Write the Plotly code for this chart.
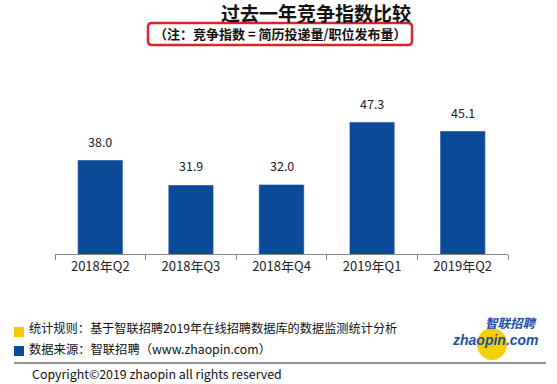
import plotly.graph_objects as go

categories = ["2018年Q2", "2018年Q3", "2018年Q4", "2019年Q1", "2019年Q2"]
values = [38.0, 31.9, 32.0, 47.3, 45.1]
value_labels = ["38.0", "31.9", "32.0", "47.3", "45.1"]

title = "过去一年竞争指数比较"
subtitle = "（注：竞争指数 = 简历投递量/职位发布量）"
note1 = "统计规则：基于智联招聘2019年在线招聘数据库的数据监测统计分析"
note2 = "数据来源：智联招聘（www.zhaopin.com）"
copyright_text = "Copyright©2019 zhaopin all rights reserved"

FONT = "Noto Sans CJK SC"
BAR = "#0B4A97"

W, H = 557, 384
# plot area in window pixels
PL, PR, PT, PB = 55, 508, 111, 254
ML, MR, MT, MB = PL, W - PR, PT, H - PB

fig = go.Figure()
fig.add_trace(go.Bar(x=categories, y=values, marker_color=BAR, width=0.5,
                     hoverinfo="skip"))

for c, v, t in zip(categories, values, value_labels):
    fig.add_annotation(x=c, y=v, text=t, showarrow=False, yshift=19,
                       font=dict(family=FONT, size=12.5, color="#222"))

fig.update_layout(
    width=W, height=H,
    margin=dict(l=ML, r=MR, t=MT, b=MB),
    paper_bgcolor="white", plot_bgcolor="white",
    showlegend=False,
    font=dict(family=FONT, color="#222"),
)
fig.update_xaxes(showline=True, linecolor="#888", linewidth=1,
                 ticks="outside", tickson="boundaries", ticklen=5, tickcolor="#888",
                 tickfont=dict(family=FONT, size=13, color="#222"), showgrid=False)
fig.update_yaxes(range=[15, 50], visible=False, showgrid=False)


def to_paper(x, y):
    return (x - PL) / (PR - PL), (PB - y) / (PB - PT)


paper_ann = [
    dict(text="<b>" + title + "</b>", x=316, y=13, size=19, anchor="center"),
    dict(text="<b>" + subtitle + "</b>", x=280, y=34, size=13, anchor="center"),
    dict(text=note1, x=27, y=328, size=12.2, anchor="left"),
    dict(text=note2, x=27, y=349, size=12.3, anchor="left"),
    dict(text=copyright_text, x=30, y=374, size=12.4, anchor="left"),
]
for a in paper_ann:
    px_, py_ = to_paper(a["x"], a["y"])
    fig.add_annotation(xref="paper", yref="paper", x=px_, y=py_,
                       text=a["text"], showarrow=False, xanchor=a["anchor"], yanchor="middle",
                       font=dict(family=FONT, size=a["size"], color="#111"))

shapes = []
# red rounded box (path in paper coordinates)
bx0, by0, bx1, by1, r = 148, 23, 412, 45, 4
pts = [
    ("M", bx0 + r, by0), ("L", bx1 - r, by0), ("Q", bx1, by0, bx1, by0 + r),
    ("L", bx1, by1 - r), ("Q", bx1, by1, bx1 - r, by1),
    ("L", bx0 + r, by1), ("Q", bx0, by1, bx0, by1 - r),
    ("L", bx0, by0 + r), ("Q", bx0, by0, bx0 + r, by0),
]
segs = []
for p in pts:
    cmd = p[0]
    coords = p[1:]
    conv = []
    for i in range(0, len(coords), 2):
        xx, yy = to_paper(coords[i], coords[i + 1])
        conv.append(f"{xx:.5f},{yy:.5f}")
    segs.append(cmd + " " + " ".join(conv))
path = " ".join(segs) + " Z"
shapes.append(dict(type="path", xref="paper", yref="paper", path=path,
                   line=dict(color="#D9242B", width=2.5), fillcolor="rgba(0,0,0,0)"))
# yellow and blue squares
for (yy, col) in [(332, "#F7C900"), (351, "#0B4A97")]:
    a0, b0 = to_paper(14, yy + 5)
    a1, b1 = to_paper(24, yy - 5)
    shapes.append(dict(type="rect", xref="paper", yref="paper", x0=a0, y0=b0, x1=a1, y1=b1,
                       line=dict(width=0), fillcolor=col))
# divider line
a0, b0 = to_paper(14, 363)
a1, b1 = to_paper(546, 363)
shapes.append(dict(type="line", xref="paper", yref="paper", x0=a0, y0=b0, x1=a1, y1=b1,
                   line=dict(color="#222", width=1)))
# logo yellow circle
a0, b0 = to_paper(477, 360)
a1, b1 = to_paper(507, 328)
shapes.append(dict(type="circle", xref="paper", yref="paper", x0=a0, y0=b0, x1=a1, y1=b1,
                   line=dict(width=0), fillcolor="#F5D000"))
fig.update_layout(shapes=shapes)

# logo texts
lx, ly = to_paper(511, 322)
fig.add_annotation(xref="paper", yref="paper", x=lx, y=ly, text="<i><b>智联招聘</b></i>",
                   showarrow=False, xanchor="center", yanchor="middle",
                   font=dict(family=FONT, size=12.5, color="#1E4FA3"))
lx, ly = to_paper(450, 340)
fig.add_annotation(xref="paper", yref="paper", x=lx, y=ly, text="<i><b>zhaopin.com</b></i>",
                   showarrow=False, xanchor="left", yanchor="middle",
                   font=dict(family="Liberation Sans", size=14, color="#1E4FA3"))

fig.write_html("out.html", config={"displayModeBar": False},
               post_script="document.body.style.margin='0px';")
